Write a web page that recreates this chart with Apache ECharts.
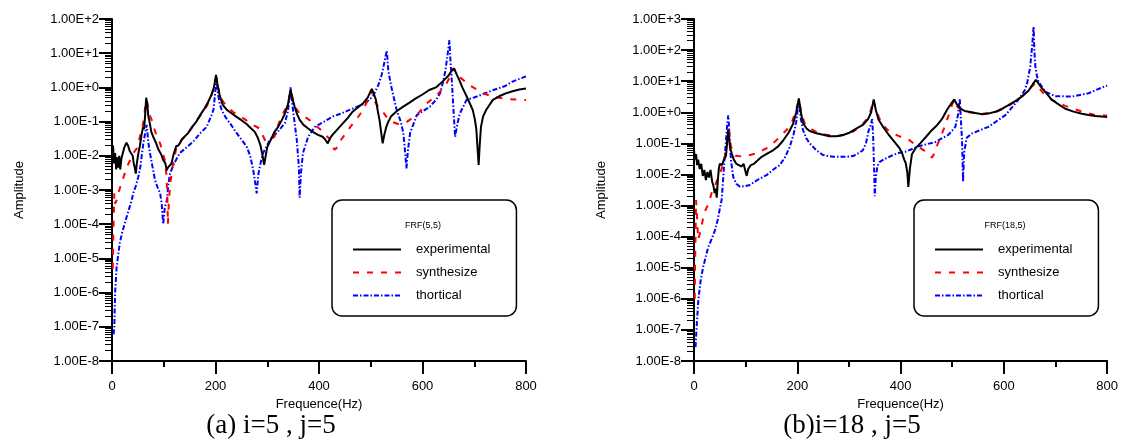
<!DOCTYPE html>
<html>
<head>
<meta charset="utf-8">
<script src="https://cdn.jsdelivr.net/npm/echarts@6/dist/echarts.min.js"></script>
<style>
  html, body { margin: 0; padding: 0; background: #fff; }
  #container { width: 1121px; height: 448px; }
</style>
</head>
<body>
<div id="container"></div>
<script>
"use strict";

// FRF(5,5): [frequence Hz, amplitude]
const aExperimental = [
    [0, 0.012], [2, 0.02], [4, 0.006], [6, 0.012], [8, 0.004], [10, 0.009], [12, 0.0045], [14, 0.01],
    [16, 0.004], [18, 0.008], [21, 0.012], [24, 0.018], [28, 0.024], [31, 0.02], [34, 0.014], [37, 0.016],
    [40, 0.01], [42, 0.006], [44, 0.0045], [46, 0.003], [48, 0.006], [51, 0.012], [54, 0.02], [57, 0.04],
    [60, 0.07], [62, 0.06], [64, 0.15], [66, 0.5], [68, 0.35], [70, 0.15], [73, 0.09], [76, 0.05],
    [80, 0.035], [85, 0.024], [90, 0.015], [95, 0.011], [99, 0.0075], [103, 0.006], [106, 0.0038], [108, 0.0045],
    [111, 0.005], [115, 0.006], [119, 0.011], [124, 0.019], [128, 0.02], [131, 0.023], [135, 0.03], [140, 0.036],
    [147, 0.046], [155, 0.07], [163, 0.1], [171, 0.16], [179, 0.245], [186, 0.38], [192, 0.6], [197, 1.0],
    [201, 2.3], [204, 1.2], [208, 0.6], [214, 0.31], [222, 0.22], [231, 0.175], [240, 0.14], [250, 0.11],
    [260, 0.085], [269, 0.063], [276, 0.05], [282, 0.033], [287, 0.02], [291, 0.01], [294, 0.0054], [297, 0.01],
    [300, 0.018], [308, 0.032], [314, 0.05], [321, 0.07], [328, 0.11], [334, 0.17], [340, 0.32], [345, 0.85],
    [349, 0.45], [353, 0.27], [358, 0.16], [363, 0.11], [370, 0.08], [379, 0.063], [388, 0.05], [398, 0.041],
    [407, 0.036], [412, 0.03], [417, 0.023], [421, 0.032], [426, 0.041], [436, 0.06], [446, 0.089], [456, 0.13],
    [465, 0.195], [475, 0.26], [485, 0.34], [494, 0.5], [502, 0.9], [506, 0.65], [510, 0.43], [513, 0.23],
    [517, 0.11], [520, 0.05], [523, 0.023], [526, 0.04], [530, 0.07], [534, 0.1], [539, 0.14], [550, 0.2],
    [562, 0.27], [575, 0.36], [587, 0.48], [600, 0.62], [613, 0.84], [626, 1.0], [639, 1.5], [650, 2.2],
    [656, 3.0], [661, 3.6], [666, 2.4], [671, 1.66], [677, 1.0], [684, 0.6], [690, 0.38], [697, 0.22],
    [701, 0.12], [704, 0.06], [706, 0.02], [708.5, 0.0054], [710.5, 0.02], [713, 0.07], [717, 0.14], [723, 0.22],
    [729, 0.3], [736, 0.43], [748, 0.55], [761, 0.67], [774, 0.77], [787, 0.87], [800, 0.93]
];
const aSynthesize = [
    [1.5, 5e-6], [2.5, 5e-5], [3.5, 2e-4], [4.5, 8e-4], [6, 4e-4], [9, 5e-4], [12, 8e-4], [19, 0.0017],
    [26, 0.0035], [32, 0.006], [38, 0.0093], [43, 0.013], [48, 0.0165], [54, 0.036], [58, 0.06], [62, 0.13],
    [65, 0.35], [67, 0.42], [70, 0.25], [74, 0.14], [77, 0.11], [82, 0.06], [87, 0.035], [93, 0.023],
    [98, 0.012], [102, 0.0076], [105, 0.003], [107, 0.0006], [108, 0.0001], [110, 0.0005], [113, 0.0017], [118, 0.006],
    [125, 0.019], [135, 0.03], [147, 0.046], [160, 0.09], [172, 0.16], [183, 0.28], [192, 0.55], [197, 1.0],
    [201, 2.0], [205, 1.0], [210, 0.48], [220, 0.3], [234, 0.19], [246, 0.15], [259, 0.11], [272, 0.08],
    [285, 0.063], [297, 0.026], [305, 0.029], [314, 0.036], [320, 0.07], [327, 0.14], [336, 0.25], [342, 0.45],
    [345, 0.8], [349, 0.5], [355, 0.25], [363, 0.17], [372, 0.14], [382, 0.11], [392, 0.08], [405, 0.055],
    [413, 0.04], [420, 0.032], [425, 0.02], [430, 0.015], [436, 0.018], [443, 0.03], [452, 0.046], [462, 0.075],
    [471, 0.11], [480, 0.17], [488, 0.27], [495, 0.45], [500, 0.8], [504, 0.5], [512, 0.3], [521, 0.22],
    [530, 0.14], [540, 0.1], [553, 0.085], [566, 0.09], [578, 0.12], [589, 0.155], [608, 0.34], [622, 0.5],
    [631, 0.67], [645, 1.2], [653, 2.0], [659, 3.6], [665, 2.7], [672, 2.0], [682, 1.5], [693, 1.1],
    [705, 0.87], [720, 0.65], [737, 0.53], [763, 0.46], [780, 0.44], [800, 0.43]
];
const aThortical = [
    [3, 6e-8], [4.5, 1e-7], [6, 1e-6], [9, 5.7e-6], [15, 2.8e-5], [20, 6e-5], [25, 1.1e-4], [30, 2e-4],
    [38, 5e-4], [41, 8e-4], [46, 0.0013], [51, 0.0025], [55, 0.005], [58, 0.012], [61, 0.025], [64, 0.045],
    [67, 0.08], [69, 0.04], [71, 0.02], [73.4, 0.012], [78, 0.005], [83, 0.002], [88, 0.0012], [93, 0.0008],
    [96, 0.0004], [99, 0.0001], [102, 0.0003], [106, 0.0005], [109, 0.0015], [112, 0.003], [120, 0.006], [131, 0.012],
    [145, 0.018], [157, 0.026], [170, 0.045], [183, 0.07], [192, 0.15], [196, 0.22], [199, 0.6], [202, 1.9],
    [205, 0.6], [209, 0.3], [212, 0.22], [220, 0.13], [228, 0.089], [241, 0.046], [250, 0.03], [260, 0.019],
    [267, 0.01], [273, 0.0038], [277, 0.0015], [279.6, 0.0008], [283, 0.003], [287, 0.006], [292, 0.012], [305, 0.029],
    [320, 0.05], [334, 0.09], [340, 0.2], [345, 1.0], [348, 0.35], [353, 0.09], [357, 0.03], [361, 0.005],
    [362.6, 0.0006], [365, 0.003], [369, 0.012], [379, 0.036], [392, 0.07], [410, 0.1], [426, 0.14], [442, 0.17],
    [459, 0.22], [473, 0.27], [488, 0.34], [504, 0.54], [515, 1.2], [521, 2.3], [527, 6], [531, 12],
    [534, 3], [540, 1.0], [550, 0.22], [558, 0.1], [563, 0.046], [566, 0.015], [569, 0.0043], [572, 0.015],
    [576, 0.046], [589, 0.155], [600, 0.2], [614, 0.27], [627, 0.45], [634, 0.67], [640, 1.5], [644, 3],
    [648, 8], [652, 24], [654, 6], [657, 1.3], [660, 0.2], [663, 0.036], [667, 0.08], [672, 0.17],
    [685, 0.43], [705, 0.54], [737, 0.84], [760, 1.1], [775, 1.5], [800, 2.1]
];

// FRF(18,5)
const bExperimental = [
    [0, 0.06], [2, 0.03], [4, 0.045], [6, 0.02], [8, 0.03], [11, 0.015], [14, 0.022], [17, 0.009],
    [20, 0.014], [23, 0.0066], [26, 0.012], [29, 0.008], [32, 0.014], [35, 0.006], [38, 0.004], [40, 0.0025],
    [42, 0.0035], [44, 0.0018], [46, 0.006], [48, 0.015], [50, 0.022], [54, 0.02], [58, 0.03], [62, 0.04],
    [64, 0.1], [66, 0.27], [68, 0.15], [70, 0.07], [73, 0.048], [77, 0.03], [82, 0.022], [87, 0.02],
    [92, 0.018], [96, 0.022], [100, 0.012], [102, 0.009], [105, 0.015], [110, 0.02], [116, 0.022], [123, 0.028],
    [131, 0.037], [140, 0.045], [153, 0.06], [163, 0.08], [173, 0.126], [183, 0.22], [192, 0.43], [198, 1.0],
    [203, 2.8], [207, 1.0], [211, 0.45], [218, 0.3], [224, 0.25], [237, 0.21], [250, 0.19], [262, 0.17],
    [276, 0.17], [290, 0.19], [301, 0.22], [314, 0.3], [327, 0.39], [337, 0.6], [343, 1.0], [348, 2.6],
    [352, 1.2], [357, 0.6], [366, 0.34], [376, 0.2], [385, 0.13], [398, 0.07], [403, 0.048], [407, 0.03],
    [410, 0.023], [413, 0.012], [415, 0.004], [418, 0.015], [422, 0.045], [429, 0.07], [438, 0.1], [449, 0.16],
    [460, 0.26], [471, 0.39], [480, 0.6], [490, 1.2], [498, 1.9], [504, 2.6], [509, 1.8], [516, 1.3],
    [524, 1.1], [532, 1.04], [545, 0.95], [558, 0.87], [571, 0.92], [584, 1.04], [597, 1.3], [609, 1.7],
    [622, 2.3], [635, 3.2], [648, 5], [656, 8], [662, 11], [668, 8], [674, 5.9], [683, 4],
    [693, 2.5], [706, 1.8], [719, 1.3], [735, 1.05], [751, 0.9], [764, 0.82], [777, 0.76], [790, 0.73],
    [800, 0.71]
];
const bSynthesize = [
    [1.5, 1e-6], [2, 1e-5], [3, 1e-4], [4, 1.5e-3], [6, 4e-4], [8, 8e-5], [11, 1.2e-4], [15, 2.4e-4],
    [20, 6e-4], [25, 9e-4], [28, 1.1e-3], [34, 0.0025], [40, 0.004], [47, 0.0083], [52, 0.013], [57, 0.022],
    [62, 0.06], [66, 0.2], [68, 0.27], [71, 0.09], [75, 0.05], [80, 0.04], [86, 0.039], [95, 0.038],
    [102, 0.039], [112, 0.044], [121, 0.048], [131, 0.058], [140, 0.069], [153, 0.1], [166, 0.16], [180, 0.28],
    [190, 0.5], [197, 1.1], [203, 2.5], [208, 1.0], [214, 0.45], [225, 0.3], [240, 0.22], [256, 0.19],
    [275, 0.17], [295, 0.19], [310, 0.25], [325, 0.38], [336, 0.65], [342, 1.1], [347, 2.5], [352, 1.3],
    [358, 0.7], [365, 0.4], [375, 0.27], [385, 0.21], [397, 0.17], [413, 0.145], [425, 0.1], [435, 0.078],
    [448, 0.055], [461, 0.035], [466, 0.05], [471, 0.087], [478, 0.17], [484, 0.3], [493, 0.8], [500, 1.8],
    [505, 2.5], [510, 1.5], [518, 1.15], [532, 1.0], [558, 0.9], [584, 1.0], [609, 1.6], [630, 2.8],
    [645, 4.5], [655, 7], [661, 8.5], [668, 6], [680, 3.5], [693, 2.5], [706, 2.0], [719, 1.6],
    [735, 1.3], [748, 1.1], [762, 0.95], [777, 0.81], [790, 0.8], [800, 0.78]
];
const bThortical = [
    [3, 2.8e-8], [5, 1.2e-7], [8.4, 9e-7], [13, 4e-6], [18, 1.1e-5], [27.7, 4.7e-5], [35, 9e-5], [40.6, 1.6e-4],
    [46, 3.5e-4], [50, 8e-4], [53.5, 1.5e-3], [56.7, 0.008], [59, 0.03], [62, 0.126], [64, 0.35], [66.3, 0.8],
    [68, 0.3], [69.6, 0.078], [72, 0.025], [76, 0.0083], [82, 0.005], [89, 0.004], [98, 0.0042], [108, 0.0046],
    [125, 0.007], [140.5, 0.0095], [155, 0.015], [166, 0.02], [176, 0.035], [185.5, 0.078], [193, 0.2], [198, 0.5],
    [203, 2.4], [207, 0.6], [211, 0.27], [217, 0.15], [224, 0.1], [237, 0.06], [250, 0.042], [270, 0.037],
    [295, 0.037], [308, 0.039], [320, 0.05], [327, 0.06], [333, 0.1], [338, 0.25], [342, 0.39], [345, 0.6],
    [347, 0.15], [349, 0.01], [350, 0.002], [352, 0.008], [355, 0.018], [359, 0.025], [370, 0.032], [385, 0.042],
    [398, 0.05], [410, 0.054], [435, 0.081], [467, 0.11], [493, 0.19], [506, 0.34], [511, 0.8], [514.6, 2.8],
    [517, 0.5], [519, 0.13], [521, 0.0058], [523, 0.05], [528, 0.15], [538.5, 0.21], [570, 0.34], [603, 0.81],
    [628, 2.5], [640, 5], [645, 8.5], [651, 29], [655, 150], [657.6, 570], [659, 100], [661, 29],
    [664, 15], [667, 9.6], [680, 4.6], [699.5, 3.3], [732, 3.2], [764, 4.1], [796, 6.9], [800, 7.2]
];

const seriesNames = ['experimental', 'synthesize', 'thortical'];
const panelTitles = ['FRF(5,5)', 'FRF(18,5)'];
const captions = ['(a) i=5 , j=5', '(b)i=18 , j=5'];
const xTicks = [0, 800, 200];   // min, max, interval
const yDecades = [[-8, 2], [-8, 3]];

const font = 'Liberation Sans, Arial, sans-serif';
const gridLefts = [112, 694];

// decimal minor ticks 2..9 of every decade, in log units
function minorTicks(lo, hi) {
    let out = [];
    for (let n = lo; n < hi; n++) {
        for (let k = 2; k <= 9; k++) out.push(n + Math.log10(k));
    }
    return out;
}

function sciLabel(v) {
    let e = Math.round(Math.log10(v));
    return '1.00E' + (e >= 0 ? '+' : '') + e;
}

let myChart = echarts.init(document.getElementById('container'));

let grids = [], xAxes = [], yAxes = [], series = [], legends = [], titles = [];
let styles = [
    { color: '#000', width: 2, type: 'solid' },
    { color: '#ff0000', width: 2, type: [6, 8] },
    { color: '#0000ff', width: 2, type: [5, 2, 1.5, 2] }
];
let panels = [
    [aExperimental, aSynthesize, aThortical],
    [bExperimental, bSynthesize, bThortical]
];

for (let p = 0; p < 2; p++) {
    let left = gridLefts[p];
    grids.push({ left: left, top: 19, width: 414, height: 342 });

    xAxes.push({
        gridIndex: p,
        type: 'value',
        min: xTicks[0],
        max: xTicks[1],
        interval: xTicks[2],
        name: 'Frequence(Hz)',
        nameLocation: 'middle',
        nameGap: 35,
        nameTextStyle: { fontFamily: font, fontSize: 13, color: '#000' },
        axisLine: { onZero: false, lineStyle: { color: '#000', width: 2 } },
        axisTick: { length: 13, lineStyle: { width: 2 } },
        minorTick: { show: true, splitNumber: 2, length: 6, lineStyle: { color: '#000', width: 2 } },
        splitLine: { show: false },
        axisLabel: { margin: 19, fontFamily: font, fontSize: 13, color: '#000' }
    });

    // main log axis with decade labels
    yAxes.push({
        gridIndex: p,
        type: 'log',
        logBase: 10,
        min: Math.pow(10, yDecades[p][0]),
        max: Math.pow(10, yDecades[p][1]),
        interval: 1,
        name: 'Amplitude',
        nameLocation: 'middle',
        nameGap: 86,
        nameTextStyle: { fontFamily: font, fontSize: 13, color: '#000' },
        axisLine: { show: true, onZero: false, lineStyle: { color: '#000', width: 2 } },
        axisTick: { show: true, length: 13, lineStyle: { width: 2 } },
        splitLine: { show: false },
        axisLabel: { margin: 13, interval: 0, fontFamily: font, fontSize: 13, color: '#000', formatter: sciLabel }
    });
    // second axis only for the 2..9 minor ticks
    yAxes.push({
        gridIndex: p,
        type: 'value',
        min: yDecades[p][0],
        max: yDecades[p][1],
        position: 'left',
        axisLine: { show: false, onZero: false },
        axisTick: {
            show: true, length: 7, customValues: minorTicks(yDecades[p][0], yDecades[p][1]),
            lineStyle: { color: '#000', width: 1 }
        },
        axisLabel: { show: false },
        splitLine: { show: false }
    });

    for (let s = 0; s < 3; s++) {
        series.push({
            name: seriesNames[s],
            type: 'line',
            xAxisIndex: p,
            yAxisIndex: p * 2,
            symbol: 'none',
            itemStyle: { color: styles[s].color },
            lineStyle: styles[s],
            z: 3 - s,
            data: panels[p][s]
        });
    }

    let boxLeft = left + 220;
    legends.push({
        orient: 'vertical',
        left: boxLeft,
        top: 200,
        padding: [43, 26, 14, 20],
        itemGap: 10,
        itemWidth: 48,
        itemHeight: 14,
        borderColor: '#000',
        borderWidth: 1.5,
        borderRadius: 10,
        itemStyle: { opacity: 0 },
        data: seriesNames,
        textStyle: { fontFamily: font, fontSize: 13, color: '#000', padding: [0, 0, 0, 10] }
    });

    titles.push({
        text: panelTitles[p],
        left: boxLeft + 91,
        top: 221,
        padding: 0,
        textAlign: 'center',
        textStyle: { fontFamily: font, fontSize: 9, fontWeight: 'normal', color: '#000' }
    });
    titles.push({
        text: captions[p],
        left: p === 0 ? 271 : 852,
        top: 412,
        padding: 0,
        textAlign: 'center',
        textStyle: { fontFamily: 'Liberation Serif, Times New Roman, serif', fontSize: 27, fontWeight: 'normal', color: '#000' }
    });
}

let option = {
    animation: false,
    backgroundColor: '#fff',
    title: titles,
    legend: legends,
    grid: grids,
    xAxis: xAxes,
    yAxis: yAxes,
    series: series
};

myChart.setOption(option);

window.addEventListener('resize', function () {
    myChart.resize();
});
</script>
</body>
</html>
